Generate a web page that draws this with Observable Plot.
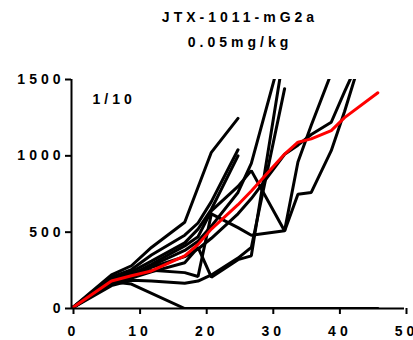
<!DOCTYPE html>
<html>
<head>
<meta charset="utf-8">
<script src="https://cdn.jsdelivr.net/npm/d3@7"></script>
<script src="https://cdn.jsdelivr.net/npm/@observablehq/plot@0.6"></script>
<style>
  html, body { margin: 0; padding: 0; background: white; }
</style>
</head>
<body>
<div id="chart"></div>
<script>
const titleLine1 = "JTX-1011-mG2a";
const titleLine2 = "0.05mg/kg";
const groupLabel = "1/10";
const xTicks = [0, 10, 20, 30, 40, 50];
const yTicks = [0, 500, 1000, 1500];

const days = [0, 6, 9, 12, 17, 19, 21, 25, 27, 32, 34, 36, 39, 41, 46];

// individual tumour volumes (null = no measurement)
const mouse1 = [0, 175, 160, null, 0, 0, 0, 0, 0, 0, 0, 0, 0, 0, 0];
const mouse2 = [0, 220, 280, 400, 565, null, 1023, 1245];
const mouse3 = [0, 205, 255, 350, 480, 560, 700, 1040];
const mouse4 = [0, 195, 240, 310, 430, 520, 650, 1000];
const mouse5 = [0, 180, 225, 280, 380, 440, 540, 760, 950, 1750];
const mouse6 = [0, 165, 200, 240, 300, 400, 205, 320, 345, 1700];
const mouse7 = [0, 150, 185, 180, 165, 180, 220, 330, 400, 1440];
const mouse8 = [0, 185, 220, 290, 410, 470, 640, 800, 903, 508, 749, 760, 1034, 1290, 2000];
const mouse9 = [0, 170, 210, 250, 235, 210, 620, 530, 480, 510, 960, 1200, 1540];
const mouse10 = [0, 175, 215, 270, 340, 390, 460, 620, 720, 1010, 1070, 1140, 1220, 1420, 1900];

const meanValues = [0, 180, 215, 246, 345, 420, 520, 680, 770, 1012, 1089, 1111, 1165, 1250, 1413];

const mice = [mouse1, mouse2, mouse3, mouse4, mouse5, mouse6, mouse7, mouse8, mouse9, mouse10];
const rows = mice.flatMap((vals, i) =>
  vals.map((v, j) => ({day: days[j], v, id: i})).filter(d => d.v != null)
);
const meanRows = meanValues.map((v, j) => ({day: days[j], v}));

const font = "Arial, 'Liberation Sans', sans-serif";

const chart = Plot.plot({
  width: 413,
  height: 340,
  marginLeft: 71,
  marginRight: 9,
  marginTop: 79,
  marginBottom: 32,
  style: {fontFamily: font, fontWeight: "bold", fontSize: "14px", letterSpacing: "4px", background: "white", color: "black"},
  x: {domain: [0, 50]},
  y: {domain: [0, 1500]},
  marks: [
    Plot.line(rows, {x: "day", y: "v", z: "id", stroke: "black", strokeWidth: 3, strokeLinejoin: "miter", clip: true}),
    Plot.line(meanRows, {x: "day", y: "v", stroke: "#ff0000", strokeWidth: 3, clip: true}),
    Plot.ruleX([0], {stroke: "black", strokeWidth: 2}),
    Plot.ruleY([0], {stroke: "black", strokeWidth: 2}),
    Plot.axisY({ticks: yTicks, tickSize: 6, tickPadding: 1, strokeWidth: 2, tickFormat: d => String(d), fontSize: 14, fontWeight: "bold", label: null}),
    Plot.axisX({ticks: xTicks, tickSize: 6, tickPadding: 12, strokeWidth: 2, tickFormat: d => String(d), fontSize: 14, fontWeight: "bold", dx: 2, label: null}),
    Plot.text([titleLine1], {frameAnchor: "top", lineAnchor: "top", dy: -67, dx: 2, fontSize: 14, fontWeight: "bold"}),
    Plot.text([titleLine2], {frameAnchor: "top", lineAnchor: "top", dy: -42, dx: 2, fontSize: 14, fontWeight: "bold"}),
    Plot.text([groupLabel], {frameAnchor: "top-left", lineAnchor: "top", textAnchor: "start", dx: 21, dy: 15, fontSize: 14, fontWeight: "bold", letterSpacing: "3px"})
  ]
});
document.getElementById("chart").appendChild(chart);
</script>
</body>
</html>
